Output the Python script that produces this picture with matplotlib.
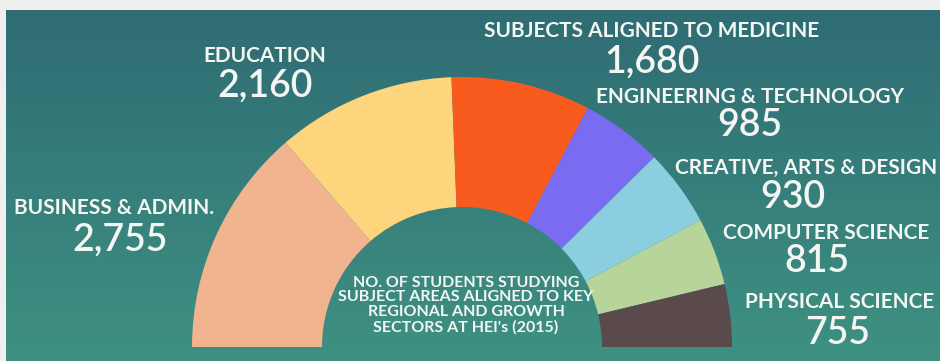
import numpy as np
import matplotlib.pyplot as plt
from matplotlib.colors import LinearSegmentedColormap

# students per subject area, 2015
subjects = ['BUSINESS & ADMIN.', 'EDUCATION', 'SUBJECTS ALIGNED TO MEDICINE',
            'ENGINEERING & TECHNOLOGY', 'CREATIVE, ARTS & DESIGN',
            'COMPUTER SCIENCE', 'PHYSICAL SCIENCE']
students = [2755, 2160, 1680, 985, 930, 815, 755]
colors = ['#F2B48F', '#FDD57C', '#F95B1F', '#7A6CF0',
          '#8BCEE0', '#B7D59B', '#5A4A4C']

title_lines = ['NO. OF STUDENTS STUDYING',
               'SUBJECT AREAS ALIGNED TO KEY',
               'REGIONAL AND GROWTH',
               "SECTORS AT HEI's (2015)"]

W, H = 940, 361
C_TEXT = '#F3F6F2'
plt.rcParams['font.family'] = ['Lato', 'DejaVu Sans']

fig = plt.figure(figsize=(W / 100, H / 100), dpi=100, facecolor='#EFEFEF')
ax = fig.add_axes([0, 0, 1, 1])

# teal gradient panel
teal = LinearSegmentedColormap.from_list('teal', ['#3E9182', '#2F6C74'])
grad = np.linspace(0, 1, 256).reshape(-1, 1)
ax.imshow(grad, cmap=teal, aspect='auto', origin='lower',
          extent=[6, W, 0, H - 10], zorder=0)

# half donut: pad with an invisible half so the data fills 180 degrees
cx, cy, r_out, r_in = 462, H - 347, 270, 140
total = sum(students)
wedges, _ = ax.pie(students + [total], colors=colors + ['none'],
                   startangle=180, counterclock=False,
                   center=(cx, cy), radius=r_out, frame=True,
                   wedgeprops=dict(width=r_out - r_in, linewidth=0))
for w in wedges:
    w.set_zorder(2)
ax.set_xlim(0, W)
ax.set_ylim(0, H)
ax.set_aspect('auto')
ax.axis('off')

# label placement (x, y of name; x, y of number; alignment of name)
name_pos = [(114, 208, 'center'), (265, 56, 'center'), (652, 31, 'center'),
            (750, 97, 'center'), (675, 168, 'left'), (826, 233, 'center'),
            (840, 302, 'center')]
num_pos = [(120, 240), (265, 86), (652, 62), (750, 126),
           (793, 198), (817, 261), (838, 333)]

for name, val, (nx, ny, ha), (vx, vy) in zip(subjects, students, name_pos, num_pos):
    ax.text(nx, H - ny, name, ha=ha, va='center', fontsize=15,
            fontweight='bold', color=C_TEXT, zorder=3)
    ax.text(vx, H - vy, f'{val:,}', ha='center', va='center', fontsize=27,
            fontweight='semibold', color=C_TEXT, zorder=3)

ax.text(466, H - 305, '\n'.join(title_lines), ha='center', va='center',
        fontsize=11.5, fontweight='bold', color=C_TEXT, linespacing=1.05,
        zorder=3)

fig.savefig('out.png', dpi=100, facecolor=fig.get_facecolor())
